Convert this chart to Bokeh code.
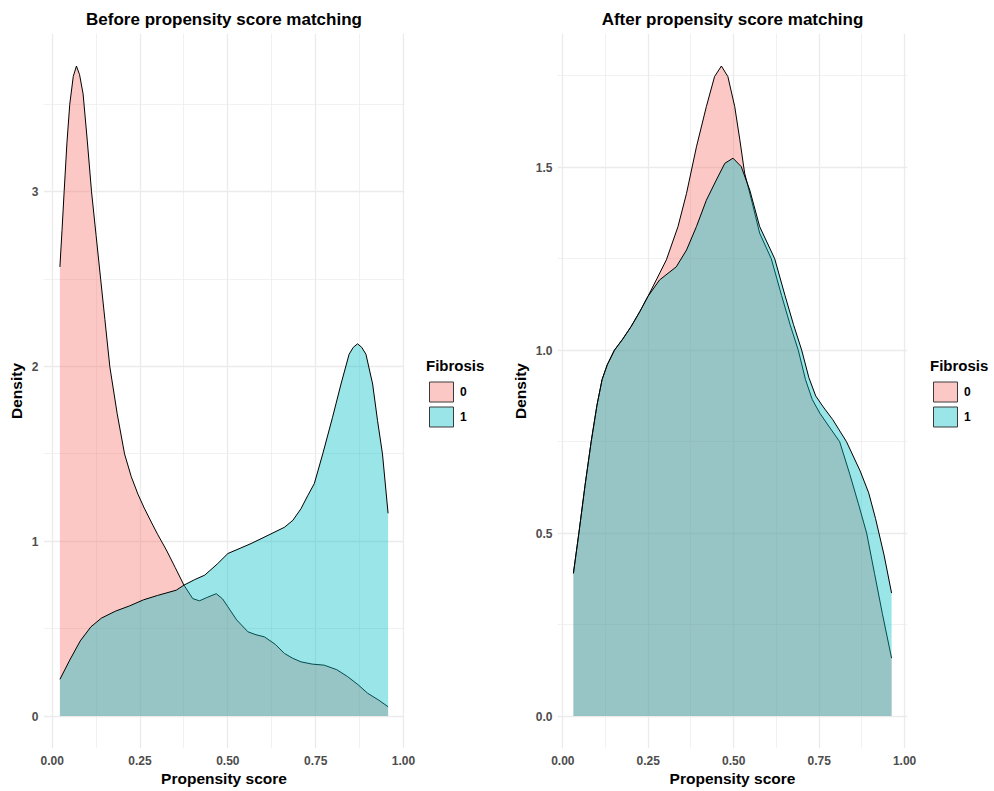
from bokeh.plotting import figure
from bokeh.layouts import row
from bokeh.models import FixedTicker, Legend, LegendItem, PrintfTickFormatter, ColumnDataSource
from bokeh.embed import file_html
from bokeh.resources import INLINE

# ---------------- data ----------------
groups = ["0", "1"]
group_colors = ["#F8766D", "#00BFC4"]
legend_title = "Fibrosis"

titles = ["Before propensity score matching", "After propensity score matching"]
x_label = "Propensity score"
y_label = "Density"

x_ticks = [0.0, 0.25, 0.5, 0.75, 1.0]
x_tick_labels = ["0.00", "0.25", "0.50", "0.75", "1.00"]
x_minor = [0.125, 0.375, 0.625, 0.875]

before_y_ticks = [0, 1, 2, 3]
before_y_tick_labels = ["0", "1", "2", "3"]
before_y_minor = [0.5, 1.5, 2.5, 3.5]

after_y_ticks = [0.0, 0.5, 1.0, 1.5]
after_y_tick_labels = ["0.0", "0.5", "1.0", "1.5"]
after_y_minor = [0.25, 0.75, 1.25, 1.75]

# Before matching, Fibrosis = 0
before_x_0 = [0.022, 0.028, 0.034, 0.042, 0.050, 0.060, 0.069, 0.078, 0.088, 0.100,
              0.112, 0.125, 0.138, 0.150, 0.164, 0.185, 0.206, 0.225, 0.244, 0.262,
              0.282, 0.300, 0.325, 0.350, 0.375, 0.400, 0.419, 0.440, 0.467, 0.485,
              0.500, 0.525, 0.557, 0.580, 0.604, 0.635, 0.661, 0.685, 0.708, 0.740,
              0.774, 0.810, 0.841, 0.870, 0.898, 0.930, 0.956]
before_y_0 = [2.57, 2.78, 3.00, 3.28, 3.50, 3.66, 3.72, 3.67, 3.56, 3.29,
              3.00, 2.75, 2.50, 2.27, 2.00, 1.73, 1.50, 1.37, 1.27, 1.19,
              1.11, 1.04, 0.95, 0.85, 0.749, 0.672, 0.659, 0.678, 0.700, 0.670,
              0.625, 0.550, 0.482, 0.465, 0.453, 0.410, 0.358, 0.330, 0.310, 0.297,
              0.291, 0.265, 0.225, 0.180, 0.130, 0.090, 0.053]

# Before matching, Fibrosis = 1
before_x_1 = [0.022, 0.050, 0.080, 0.110, 0.140, 0.180, 0.220, 0.260, 0.300, 0.353,
              0.375, 0.405, 0.434, 0.470, 0.500, 0.535, 0.566, 0.600, 0.661, 0.685,
              0.708, 0.727, 0.746, 0.770, 0.798, 0.822, 0.845, 0.857, 0.869, 0.881,
              0.893, 0.912, 0.926, 0.940, 0.956]
before_y_1 = [0.21, 0.32, 0.43, 0.51, 0.56, 0.60, 0.63, 0.665, 0.69, 0.72,
              0.749, 0.78, 0.806, 0.87, 0.93, 0.96, 0.987, 1.02, 1.08, 1.12,
              1.186, 1.26, 1.33, 1.50, 1.71, 1.90, 2.07, 2.11, 2.13, 2.11,
              2.07, 1.90, 1.69, 1.50, 1.16]

# After matching, Fibrosis = 0
after_x_0 = [0.031, 0.047, 0.065, 0.083, 0.100, 0.115, 0.130, 0.151, 0.175, 0.200,
             0.225, 0.249, 0.275, 0.303, 0.337, 0.362, 0.391, 0.420, 0.444, 0.464,
             0.483, 0.503, 0.518, 0.532, 0.555, 0.576, 0.610, 0.640, 0.665, 0.689,
             0.710, 0.730, 0.752, 0.780, 0.810, 0.840, 0.865, 0.889, 0.912, 0.935,
             0.962]
after_y_0 = [0.39, 0.50, 0.63, 0.75, 0.85, 0.92, 0.96, 1.00, 1.03, 1.065,
             1.105, 1.147, 1.195, 1.247, 1.338, 1.429, 1.556, 1.666, 1.748, 1.777,
             1.748, 1.666, 1.575, 1.484, 1.40, 1.32, 1.25, 1.15, 1.07, 1.00,
             0.92, 0.865, 0.828, 0.79, 0.75, 0.66, 0.58, 0.50, 0.39, 0.28,
             0.158]

# After matching, Fibrosis = 1
after_x_1 = [0.031, 0.047, 0.065, 0.083, 0.100, 0.115, 0.130, 0.151, 0.175, 0.200,
             0.225, 0.249, 0.283, 0.332, 0.362, 0.391, 0.420, 0.449, 0.474, 0.498,
             0.522, 0.547, 0.576, 0.620, 0.650, 0.675, 0.699, 0.720, 0.740, 0.762,
             0.790, 0.830, 0.870, 0.895, 0.915, 0.940, 0.962]
after_y_1 = [0.39, 0.50, 0.63, 0.75, 0.85, 0.92, 0.96, 1.00, 1.03, 1.065,
             1.105, 1.147, 1.192, 1.228, 1.274, 1.338, 1.41, 1.465, 1.511, 1.525,
             1.502, 1.438, 1.338, 1.25, 1.15, 1.07, 1.00, 0.925, 0.875, 0.845,
             0.81, 0.75, 0.67, 0.61, 0.54, 0.44, 0.336]

# ---------------- styling ----------------
FONT = "Liberation Sans"
GRID = "#EBEBEB"
TICK_TEXT = "#4D4D4D"
H = 790


def expand(lo, hi, mult=0.05):
    rng = hi - lo
    return (lo - rng * mult, hi + rng * mult)


def make_panel(title, curves, y_ticks, y_tick_labels, y_minor, width, border_left, border_right, y_fmt):
    all_x = [v for xs, _ in curves for v in xs]
    all_y = [v for _, ys in curves for v in ys]
    xr = expand(min(all_x), max(all_x))
    yr = expand(0.0, max(all_y))
    p = figure(width=width, height=H, x_range=xr, y_range=yr,
               output_backend="svg", toolbar_location=None,
               min_border_left=border_left, min_border_right=border_right,
               min_border_top=33, min_border_bottom=42)
    p.outline_line_color = None
    p.background_fill_color = "white"

    p.title.text = title
    p.title.align = "center"
    p.title.text_font = FONT
    p.title.text_font_size = "17px"
    p.title.text_font_style = "bold"
    p.title.text_color = "black"
    p.title.standoff = 10

    p.xaxis.ticker = FixedTicker(ticks=x_ticks, minor_ticks=x_minor)
    p.yaxis.ticker = FixedTicker(ticks=y_ticks, minor_ticks=y_minor)
    p.xaxis.formatter = PrintfTickFormatter(format="%.2f")
    p.yaxis.formatter = PrintfTickFormatter(format=y_fmt)
    p.xaxis.major_label_overrides = {t: l for t, l in zip(x_ticks, x_tick_labels)}
    p.yaxis.major_label_overrides = {t: l for t, l in zip(y_ticks, y_tick_labels)}

    for ax in (p.xaxis[0], p.yaxis[0]):
        ax.axis_line_color = None
        ax.major_tick_line_color = None
        ax.minor_tick_line_color = None
        ax.major_tick_out = 0
        ax.major_tick_in = 0
        ax.minor_tick_out = 0
        ax.minor_tick_in = 0
        ax.major_label_text_font = FONT
        ax.major_label_text_font_size = "12px"
        ax.major_label_text_font_style = "bold"
        ax.major_label_text_color = TICK_TEXT
        ax.axis_label_text_font = FONT
        ax.axis_label_text_font_size = "15.5px"
        ax.axis_label_text_font_style = "bold"
        ax.axis_label_text_color = "black"
    p.xaxis.axis_label = x_label
    p.yaxis.axis_label = y_label
    p.xaxis.major_label_standoff = 7
    p.xaxis.axis_label_standoff = 2
    p.yaxis.major_label_standoff = 5
    p.yaxis.axis_label_standoff = 4

    for g in (p.xgrid[0], p.ygrid[0]):
        g.grid_line_color = GRID
        g.grid_line_width = 1.3
        g.minor_grid_line_color = GRID
        g.minor_grid_line_width = 0.7

    for (xs, ys), color in zip(curves, group_colors):
        src = ColumnDataSource(dict(x=xs, y=ys))
        p.varea(x="x", y1=0, y2="y", source=src, fill_color=color, fill_alpha=0.4)
        p.line(x="x", y="y", source=src, line_color="black", line_width=1.0)
    return p


def make_legend_fig(width, offset_x, curves):
    # key glyphs come from the same curves, drawn outside the visible range
    lf = figure(width=width, height=H, x_axis_type=None, y_axis_type=None,
                x_range=(10, 11), y_range=(10, 11),
                output_backend="svg", toolbar_location=None,
                min_border=0)
    lf.outline_line_color = None
    lf.grid.visible = False
    items = []
    for g, color, (xs, ys) in zip(groups, group_colors, curves):
        src = ColumnDataSource(dict(x=xs, y=ys))
        r = lf.patch(x="x", y="y", source=src, fill_color=color, fill_alpha=0.4,
                     line_color="#3A3A3A", line_width=1)
        items.append(LegendItem(label=g, renderers=[r]))
    leg = Legend(items=items, location=(offset_x, 319), title=legend_title,
                 padding=0, margin=0, border_line_color=None,
                 background_fill_alpha=0, spacing=0,
                 glyph_width=30, glyph_height=25, label_height=25,
                 label_standoff=4,
                 label_text_font=FONT, label_text_font_size="12px",
                 label_text_font_style="bold", label_text_color="black",
                 title_text_font=FONT, title_text_font_size="15px",
                 title_text_font_style="bold", title_text_color="black",
                 title_standoff=5)
    lf.add_layout(leg, "center")
    return lf


before_curves = [(before_x_0, before_y_0), (before_x_1, before_y_1)]
after_curves = [(after_x_0, after_y_0), (after_x_1, after_y_1)]

p1 = make_panel(titles[0], before_curves,
                before_y_ticks, before_y_tick_labels, before_y_minor,
                width=419, border_left=43, border_right=15, y_fmt="%d")
l1 = make_legend_fig(81, 7, before_curves)
p2 = make_panel(titles[1], after_curves,
                after_y_ticks, after_y_tick_labels, after_y_minor,
                width=422, border_left=57, border_right=15, y_fmt="%.1f")
l2 = make_legend_fig(70, 8, after_curves)

layout = row(p1, l1, p2, l2)
open("out.html", "w").write(file_html(layout, INLINE))
